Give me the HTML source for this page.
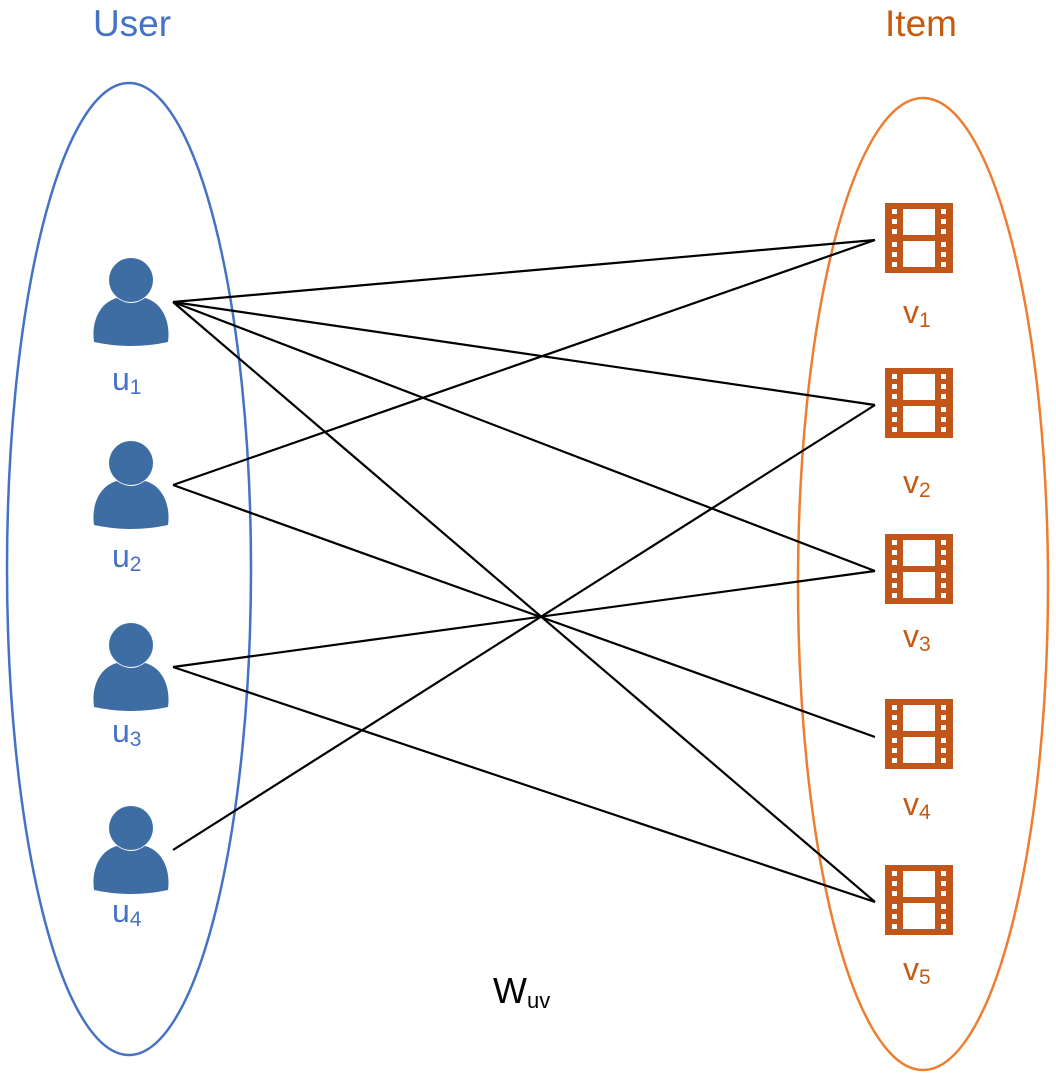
<!DOCTYPE html>
<html><head><meta charset="utf-8"><style>
html,body{margin:0;padding:0;background:#fff;}
svg{display:block;}
text{font-family:"Liberation Sans",sans-serif;}
</style></head><body>
<svg width="1056" height="1088" viewBox="0 0 1056 1088" xmlns="http://www.w3.org/2000/svg">
<defs>
<g id="user">
<circle cx="0" cy="-20" r="22" fill="#3e6da3"/>
<path d="M-37,42 C-40,20 -30,2 -14,-2 Q0,8 14,-2 C30,2 40,20 37,42 Q0,50 -37,42 Z" fill="#3e6da3"/>
</g>
<g id="film">
<rect x="0" y="0" width="68" height="70" fill="#c0561a"/>
<rect x="18" y="6" width="32" height="26" fill="#fff"/>
<rect x="18" y="38" width="32" height="26" fill="#fff"/>
<g fill="#fff">
<rect x="7" y="6" width="5" height="5"/><rect x="7" y="16" width="5" height="5"/><rect x="7" y="26" width="5" height="5"/>
<rect x="7" y="39" width="5" height="5"/><rect x="7" y="49" width="5" height="5"/><rect x="7" y="59" width="5" height="5"/>
<rect x="56" y="6" width="5" height="5"/><rect x="56" y="16" width="5" height="5"/><rect x="56" y="26" width="5" height="5"/>
<rect x="56" y="39" width="5" height="5"/><rect x="56" y="49" width="5" height="5"/><rect x="56" y="59" width="5" height="5"/>
</g>
</g>
</defs>
<ellipse cx="129" cy="569" rx="122" ry="486" fill="none" stroke="#4472c4" stroke-width="2.5"/>
<ellipse cx="923" cy="584" rx="125" ry="486" fill="none" stroke="#ed7d31" stroke-width="2.5"/>
<text x="132" y="36" font-size="37" fill="#4472c4" text-anchor="middle">User</text>
<text x="921" y="36" font-size="37" fill="#c55a11" text-anchor="middle">Item</text>

<g stroke="#000" stroke-width="2.2" fill="none">
<line x1="173" y1="302" x2="875" y2="240"/>
<line x1="173" y1="302" x2="875" y2="405"/>
<line x1="173" y1="302" x2="875" y2="571"/>
<line x1="173" y1="302" x2="875" y2="902"/>
<line x1="173" y1="485" x2="875" y2="240"/>
<line x1="173" y1="485" x2="875" y2="737"/>
<line x1="173" y1="667" x2="875" y2="571"/>
<line x1="173" y1="667" x2="875" y2="902"/>
<line x1="173" y1="850" x2="875" y2="405"/>
</g>

<use href="#user" x="131" y="300"/>
<use href="#user" x="131" y="483"/>
<use href="#user" x="131" y="665"/>
<use href="#user" x="131" y="848"/>

<g fill="#4472c4">
<text x="112" y="390" font-size="32">u<tspan font-size="21" dy="4">1</tspan></text>
<text x="112" y="567" font-size="32">u<tspan font-size="21" dy="4">2</tspan></text>
<text x="112" y="742" font-size="32">u<tspan font-size="21" dy="4">3</tspan></text>
<text x="112" y="922" font-size="32">u<tspan font-size="21" dy="4">4</tspan></text>
</g>

<use href="#film" x="885" y="203"/>
<use href="#film" x="885" y="368"/>
<use href="#film" x="885" y="534"/>
<use href="#film" x="885" y="699"/>
<use href="#film" x="885" y="865"/>

<g fill="#c55a11">
<text x="903" y="323" font-size="32">v<tspan font-size="21" dy="4">1</tspan></text>
<text x="903" y="493" font-size="32">v<tspan font-size="21" dy="4">2</tspan></text>
<text x="903" y="647" font-size="32">v<tspan font-size="21" dy="4">3</tspan></text>
<text x="903" y="815" font-size="32">v<tspan font-size="21" dy="4">4</tspan></text>
<text x="903" y="980" font-size="32">v<tspan font-size="21" dy="4">5</tspan></text>
</g>

<text x="493" y="1003" font-size="36" fill="#000">W<tspan font-size="22" dy="5">uv</tspan></text>
</svg>
</body></html>
